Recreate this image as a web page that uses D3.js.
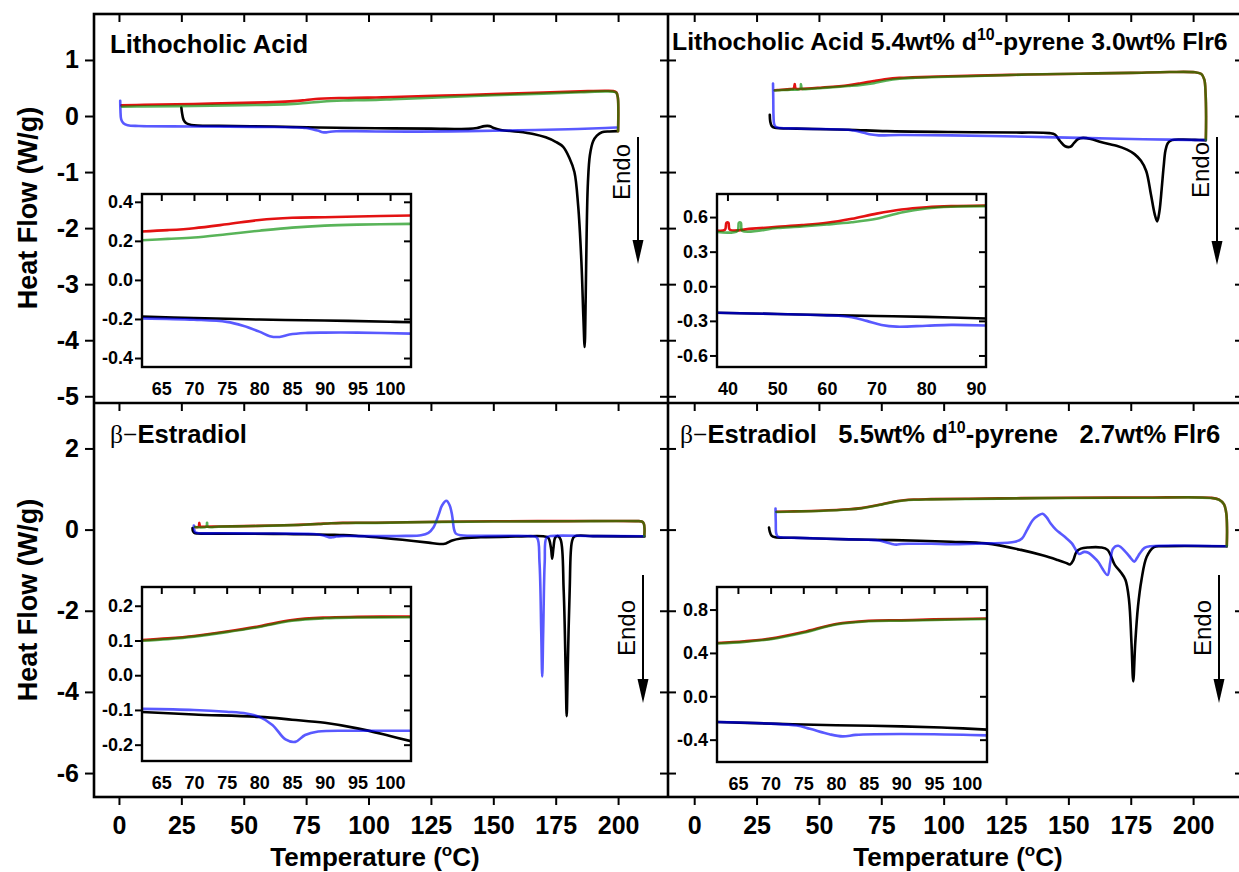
<!DOCTYPE html>
<html>
<head>
<meta charset="utf-8">
<script src="https://cdn.jsdelivr.net/npm/d3@7"></script>
<style>
  html, body { margin: 0; padding: 0; background: #fff; }
  svg { display: block; font-family: "Liberation Sans", Arial, Helvetica, sans-serif; }
</style>
</head>
<body>
<svg id="chart" width="1239" height="872"></svg>
<script>
// ---------- Axis ticks ----------
const tempTicks = [0, 25, 50, 75, 100, 125, 150, 175, 200];
const topFlowTicks = [1, 0, -1, -2, -3, -4, -5];
const bottomFlowTicks = [2, 0, -2, -4, -6];
const insetTempTicks = [65, 70, 75, 80, 85, 90, 95, 100];
const lcaDopInsetTempTicks = [40, 50, 60, 70, 80, 90];
const lcaInsetFlowTicks = [0.4, 0.2, 0, -0.2, -0.4];
const lcaDopInsetFlowTicks = [0.6, 0.3, 0, -0.3, -0.6];
const e2InsetFlowTicks = [0.2, 0.1, 0, -0.1, -0.2];
const e2DopInsetFlowTicks = [0.8, 0.4, 0, -0.4];

// ---------- Lithocholic acid: [temperature °C, heat flow W/g] ----------
const lcaHeat1 = [[25.0,0.15],[25.3,0.05],[25.9,-0.07],[27,-0.13],[29,-0.16],[40,-0.175],[62,-0.188],[80,-0.205],[103,-0.217],[125,-0.225],[140,-0.23],[143.5,-0.215],[146.5,-0.18],[148.5,-0.18],[150.5,-0.22],[153,-0.25],[160,-0.28],[166,-0.32],[171,-0.38],[175,-0.46],[178,-0.55],[180.5,-0.75],[182.5,-1.0],[184,-1.6],[185.3,-2.6],[186.1,-3.6],[186.6,-4.12],[187,-3.3],[187.4,-2.1],[187.9,-1.2],[188.7,-0.7],[190,-0.45],[191.5,-0.35],[193.5,-0.29],[196.5,-0.275],[199.6,-0.27]];
const lcaCool1 = [[200,-0.27],[200.1,0.1],[199.9,0.33],[199.3,0.42],[198,0.445],[195,0.45],[185,0.44],[170,0.42],[150,0.39],[130,0.365],[110,0.34],[103,0.33],[95,0.325],[90,0.321],[85,0.318],[80,0.307],[75,0.285],[70,0.265],[62,0.248],[50,0.235],[30,0.215],[10,0.2],[1,0.19]];
const lcaHeat2 = [[0.5,0.27],[0.6,0.1],[0.9,-0.06],[1.8,-0.13],[3.5,-0.165],[8,-0.178],[30,-0.186],[62,-0.197],[70,-0.204],[75,-0.215],[77.5,-0.235],[80,-0.265],[81.6,-0.288],[83.1,-0.292],[84.6,-0.28],[87,-0.272],[90,-0.27],[95,-0.27],[103,-0.275],[120,-0.278],[140,-0.27],[160,-0.255],[180,-0.235],[195,-0.215],[199.3,-0.205]];
const lcaCool2 = [[200,-0.27],[200.1,0.1],[199.9,0.33],[199.3,0.415],[198,0.435],[195,0.44],[185,0.425],[170,0.4],[150,0.37],[130,0.335],[110,0.3],[103,0.287],[95,0.283],[90,0.278],[85,0.268],[80,0.252],[75,0.234],[70,0.217],[62,0.203],[50,0.195],[30,0.18],[10,0.17],[1.2,0.165]];

const lcaInsetHeat1 = [[62,-0.188],[70,-0.195],[80,-0.203],[90,-0.208],[100,-0.214],[103.2,-0.217]];
const lcaInsetCool1 = [[62,0.248],[66,0.255],[70,0.265],[75,0.285],[80,0.307],[85,0.318],[90,0.321],[95,0.325],[103.2,0.33]];
const lcaInsetHeat2 = [[62,-0.197],[70,-0.204],[75,-0.215],[77.5,-0.235],[80,-0.265],[81.6,-0.288],[83.1,-0.292],[84.6,-0.28],[87,-0.272],[90,-0.27],[95,-0.27],[103.2,-0.275]];
const lcaInsetCool2 = [[62,0.203],[66,0.21],[70,0.217],[75,0.234],[80,0.252],[85,0.268],[90,0.278],[95,0.283],[103.2,0.287]];

// ---------- Lithocholic acid + 5.4wt% d10-pyrene + 3.0wt% Flr6 ----------
const lcaDopHeat1 = [[30.3,0.02],[30.5,-0.1],[31.1,-0.18],[32.3,-0.21],[41.1,-0.225],[61.7,-0.245],[77.2,-0.27],[102.9,-0.285],[128.6,-0.295],[142.5,-0.305],[144.6,-0.33],[146.7,-0.45],[148.7,-0.54],[150.8,-0.55],[152.3,-0.48],[153.9,-0.41],[155.9,-0.39],[159.0,-0.41],[162.6,-0.46],[166.2,-0.5],[169.3,-0.53],[173.5,-0.6],[176.5,-0.68],[179.1,-0.8],[181.2,-0.98],[183.1,-1.4],[184.6,-1.75],[185.6,-1.88],[186.5,-1.7],[187.4,-1.3],[188.2,-0.9],[188.9,-0.62],[189.9,-0.48],[191.5,-0.43],[195.6,-0.42],[200.8,-0.425],[204.9,-0.43]];
const lcaDopCool1 = [[205.1,-0.43],[205.2,0.0],[205.0,0.4],[204.5,0.65],[203.3,0.75],[200.8,0.78],[190.5,0.785],[175,0.77],[154.4,0.755],[133.8,0.74],[113.2,0.72],[97.8,0.705],[87.5,0.69],[82.3,0.68],[77.2,0.66],[72,0.625],[66.9,0.585],[61.7,0.55],[51.4,0.51],[43,0.485],[40.7,0.49],[40.3,0.57],[39.9,0.49],[38.5,0.48],[33.9,0.465],[32.3,0.46]];
const lcaDopHeat2 = [[31.6,0.58],[31.7,0.3],[31.8,0.0],[32.1,-0.15],[32.9,-0.2],[41.1,-0.222],[61.7,-0.245],[64,-0.26],[68,-0.3],[71,-0.33],[74,-0.345],[82.3,-0.338],[102.9,-0.345],[133.8,-0.37],[154.4,-0.39],[180.1,-0.415],[205.1,-0.43]];
const lcaDopCool2 = [[205.1,-0.43],[205.2,0.0],[205.0,0.4],[204.5,0.65],[203.3,0.75],[200.8,0.78],[190.5,0.785],[175,0.77],[154.4,0.755],[133.8,0.74],[113.2,0.715],[97.8,0.695],[87.5,0.68],[82.3,0.665],[77.2,0.635],[72,0.585],[66.9,0.555],[61.7,0.535],[51.4,0.5],[43.4,0.48],[43.1,0.485],[42.8,0.57],[42.5,0.485],[38.5,0.47],[33.9,0.46],[32.3,0.455]];

const lcaDopInsetHeat1 = [[37.9,-0.23],[50,-0.24],[60,-0.25],[70,-0.258],[80,-0.265],[92,-0.28]];
const lcaDopInsetCool1 = [[37.9,0.483],[39.5,0.49],[39.8,0.55],[40.2,0.55],[40.5,0.49],[45,0.5],[50,0.515],[55,0.53],[60,0.55],[65,0.585],[70,0.63],[75,0.665],[80,0.685],[85,0.695],[92,0.70]];
const lcaDopInsetHeat2 = [[37.9,-0.23],[50,-0.24],[60,-0.252],[65,-0.268],[68,-0.3],[71,-0.335],[74,-0.35],[80,-0.342],[85,-0.335],[92,-0.34]];
const lcaDopInsetCool2 = [[37.9,0.47],[42,0.48],[42.3,0.55],[42.7,0.55],[43,0.48],[50,0.505],[55,0.518],[60,0.535],[65,0.555],[70,0.585],[75,0.64],[80,0.675],[85,0.69],[92,0.695]];

// ---------- β-Estradiol ----------
const e2Heat1 = [[29.5,0.04],[29.6,-0.03],[30.2,-0.08],[31.5,-0.095],[40,-0.1],[62,-0.106],[70,-0.113],[80,-0.12],[85,-0.128],[90,-0.137],[95,-0.153],[100,-0.175],[103,-0.19],[110,-0.23],[118,-0.28],[124,-0.32],[128.5,-0.355],[131,-0.34],[133.5,-0.27],[137,-0.22],[145,-0.19],[160,-0.17],[170,-0.165],[172,-0.2],[173.1,-0.45],[173.6,-0.72],[174.1,-0.45],[174.8,-0.2],[175.8,-0.16],[177,-0.25],[178.2,-1.5],[179,-3.5],[179.4,-4.6],[179.8,-3.5],[180.6,-1.5],[181.5,-0.3],[182.5,-0.17],[190,-0.16],[210.5,-0.17]];
const e2Cool1 = [[210.5,-0.17],[210.6,0.0],[210.3,0.15],[209.5,0.2],[207,0.21],[180,0.21],[150,0.205],[130,0.195],[115,0.18],[103,0.168],[95,0.167],[90,0.165],[85,0.158],[80,0.14],[75,0.125],[70,0.112],[62,0.1],[50,0.085],[40,0.075],[33,0.07],[32.5,0.07],[32.2,0.17],[31.9,0.07],[30.5,0.065]];
const e2Heat2 = [[30,0.1],[30.1,0.02],[30.5,-0.06],[31.5,-0.085],[40,-0.09],[62,-0.097],[70,-0.1],[75,-0.105],[78,-0.11],[80,-0.12],[82,-0.143],[84,-0.185],[85.5,-0.19],[87,-0.17],[89,-0.16],[95,-0.16],[103,-0.16],[115,-0.155],[121,-0.14],[124,-0.08],[126,0.05],[128,0.35],[129.5,0.6],[131.2,0.71],[132.5,0.6],[133.5,0.35],[134.3,0.0],[135,-0.1],[137,-0.14],[150,-0.155],[165,-0.16],[167.5,-0.2],[168.5,-0.8],[169.2,-2.5],[169.6,-3.62],[170.0,-2.5],[170.6,-0.8],[171.3,-0.2],[173,-0.16],[190,-0.16],[210.5,-0.165]];
const e2Cool2 = [[210.5,-0.17],[210.6,0.0],[210.3,0.15],[209.5,0.2],[207,0.21],[180,0.205],[150,0.2],[130,0.19],[115,0.177],[103,0.166],[95,0.165],[90,0.163],[85,0.156],[80,0.138],[75,0.123],[70,0.11],[62,0.098],[50,0.083],[40,0.073],[35.6,0.07],[35.3,0.17],[35.0,0.07],[30.5,0.063]];

const e2InsetHeat1 = [[62,-0.106],[70,-0.113],[80,-0.12],[85,-0.128],[90,-0.137],[95,-0.153],[100,-0.175],[103.2,-0.19]];
const e2InsetCool1 = [[62,0.101],[66,0.106],[70,0.113],[75,0.126],[80,0.141],[85,0.159],[90,0.166],[95,0.168],[103.2,0.169]];
const e2InsetHeat2 = [[62,-0.097],[70,-0.1],[75,-0.105],[78,-0.11],[80,-0.12],[82,-0.143],[84,-0.185],[85.5,-0.192],[87,-0.172],[89,-0.162],[95,-0.16],[103.2,-0.16]];
const e2InsetCool2 = [[62,0.099],[66,0.104],[70,0.111],[75,0.124],[80,0.139],[85,0.157],[90,0.164],[95,0.166],[103.2,0.167]];

// ---------- β-Estradiol + 5.5wt% d10-pyrene + 2.7wt% Flr6 ----------
const e2DopHeat1 = [[30,0.05],[30.3,-0.05],[31,-0.15],[32.5,-0.19],[40,-0.2],[62,-0.24],[80,-0.26],[103,-0.3],[117,-0.34],[131,-0.5],[140,-0.64],[145.7,-0.75],[149,-0.82],[150.7,-0.86],[152,-0.75],[153.2,-0.55],[155,-0.47],[158,-0.44],[163,-0.44],[165.7,-0.5],[168.6,-0.87],[171,-1.05],[172.9,-1.24],[174.3,-1.73],[175.3,-2.8],[176,-3.74],[176.8,-2.8],[177.9,-1.9],[179.3,-1.24],[181.4,-0.67],[184.3,-0.43],[188,-0.41],[213.5,-0.41]];
const e2DopCool1 = [[213.5,-0.41],[213.6,0.0],[213.3,0.4],[212.4,0.62],[210.4,0.74],[207,0.785],[180,0.79],[150,0.785],[131,0.775],[110,0.76],[95,0.75],[88,0.74],[81,0.7],[75,0.62],[67,0.53],[62,0.5],[50,0.465],[40,0.45],[33,0.44]];
const e2DopHeat2 = [[32.6,0.52],[32.7,0.2],[32.9,-0.1],[33.5,-0.17],[35,-0.19],[45,-0.21],[62,-0.24],[70,-0.252],[74,-0.27],[76,-0.3],[79,-0.35],[81,-0.37],[83,-0.356],[86,-0.35],[95,-0.35],[103,-0.36],[117,-0.34],[128.6,-0.3],[131.4,-0.22],[133.5,0.0],[135.7,0.23],[138,0.35],[139.7,0.39],[141.3,0.3],[142.9,0.15],[145,0.0],[147,-0.1],[149,-0.2],[151.4,-0.34],[153,-0.5],[154.3,-0.6],[156.4,-0.55],[158,-0.57],[160,-0.67],[162,-0.8],[163.6,-0.96],[165.7,-1.12],[166.8,-0.8],[167.9,-0.47],[170,-0.4],[172.9,-0.55],[175,-0.7],[176.4,-0.79],[177.5,-0.7],[178.6,-0.59],[180.5,-0.45],[182.9,-0.41],[213.5,-0.41]];
const e2DopCool2 = [[213.5,-0.41],[213.6,0.0],[213.3,0.4],[212.4,0.62],[210.4,0.735],[207,0.78],[180,0.785],[150,0.78],[131,0.77],[110,0.755],[95,0.745],[88,0.735],[81,0.695],[75,0.615],[67,0.525],[62,0.495],[50,0.46],[40,0.445],[33,0.435]];

const e2DopInsetHeat1 = [[61.8,-0.237],[70,-0.252],[75,-0.26],[80,-0.267],[90,-0.277],[97,-0.29],[103.1,-0.307]];
const e2DopInsetCool1 = [[61.8,0.492],[66,0.507],[70,0.532],[75,0.592],[80,0.667],[85,0.697],[90,0.702],[95,0.709],[103.1,0.718]];
const e2DopInsetHeat2 = [[61.8,-0.237],[70,-0.252],[74,-0.27],[76,-0.3],[79,-0.35],[81,-0.37],[83,-0.356],[86,-0.35],[95,-0.35],[103.1,-0.36]];
const e2DopInsetCool2 = [[61.8,0.487],[66,0.502],[70,0.527],[75,0.587],[80,0.662],[85,0.692],[90,0.697],[95,0.704],[103.1,0.713]];

// ---------- Drawing ----------
const FONT = "'Liberation Sans', Arial, Helvetica, sans-serif";
const SERIF = "'Liberation Serif', 'Times New Roman', serif";
const svg = d3.select("#chart");
const defs = svg.append("defs");

// first heating (black) and first cooling (red) opaque; second runs translucent on top
const traceStyle = [
  { key: "heat1", color: "#000000", opacity: 1 },
  { key: "cool1", color: "#e31212", opacity: 1 },
  { key: "heat2", color: "#0000ff", opacity: 0.65 },
  { key: "cool2", color: "#008c00", opacity: 0.65 }
];

function styleAxis(g, fontSize) {
  g.select(".domain").remove();
  g.selectAll(".tick line").attr("stroke", "#000").attr("stroke-width", 2);
  g.selectAll(".tick text")
    .attr("fill", "#000")
    .attr("font-size", fontSize)
    .attr("font-weight", "bold")
    .attr("font-family", FONT);
}

function drawTraces(parent, x, y, traces, clipId, width) {
  const line = d3.line()
    .x(d => x(d[0]))
    .y(d => y(d[1]))
    .curve(d3.curveCatmullRom.alpha(0.5));
  const layer = parent.append("g")
    .attr("clip-path", `url(#${clipId})`)
    .attr("fill", "none")
    .attr("stroke-width", width)
    .attr("stroke-linejoin", "round")
    .attr("stroke-linecap", "round");
  traceStyle.forEach(s => {
    layer.append("path")
      .datum(traces[s.key])
      .attr("d", line)
      .attr("stroke", s.color)
      .attr("stroke-opacity", s.opacity);
  });
}

function addClip(id, x0, y0, x1, y1) {
  defs.append("clipPath").attr("id", id)
    .append("rect").attr("x", x0).attr("y", y0).attr("width", x1 - x0).attr("height", y1 - y0);
}

function drawInset(p) {
  const x = d3.scaleLinear().domain(p.xDomain).range([p.left, p.right]);
  const y = d3.scaleLinear().domain(p.yDomain).range([p.bottom, p.top]);
  const g = svg.append("g");
  g.append("rect")
    .attr("x", p.left).attr("y", p.top)
    .attr("width", p.right - p.left).attr("height", p.bottom - p.top)
    .attr("fill", "#fff");
  addClip(p.id, p.left, p.top, p.right, p.bottom);
  drawTraces(g, x, y, p.traces, p.id, 2.6);

  g.append("g").attr("transform", `translate(${p.left},0)`)
    .call(d3.axisLeft(y).tickValues(p.yTicks).tickSize(7).tickPadding(2).tickFormat(d => d.toFixed(1)))
    .call(a => styleAxis(a, 18));
  g.append("g").attr("transform", `translate(${p.right},0)`)
    .call(d3.axisRight(y).tickValues(p.yTicks).tickSize(-7).tickFormat(""))
    .call(a => styleAxis(a, 18));
  g.append("g").attr("transform", `translate(0,${p.top})`)
    .call(d3.axisTop(x).tickValues(p.xTicks).tickSize(-7).tickFormat(""))
    .call(a => styleAxis(a, 18));
  g.append("g").attr("transform", `translate(0,${p.bottom})`)
    .call(d3.axisBottom(x).tickValues(p.xTicks).tickSize(0).tickPadding(15).tickFormat(d => String(d)))
    .call(a => styleAxis(a, 18));

  g.append("rect")
    .attr("x", p.left).attr("y", p.top)
    .attr("width", p.right - p.left).attr("height", p.bottom - p.top)
    .attr("fill", "none").attr("stroke", "#000").attr("stroke-width", 2.4);
}

function drawEndo(ax, top, tip, textY) {
  const g = svg.append("g");
  g.append("line")
    .attr("x1", ax).attr("x2", ax).attr("y1", top).attr("y2", tip - 14)
    .attr("stroke", "#000").attr("stroke-width", 2);
  g.append("path")
    .attr("d", `M${ax - 5.5},${tip - 24} L${ax + 5.5},${tip - 24} L${ax},${tip} Z`)
    .attr("fill", "#000");
  g.append("text")
    .attr("transform", `translate(${ax - 8},${textY}) rotate(-90)`)
    .attr("text-anchor", "middle")
    .attr("font-family", FONT)
    .attr("font-size", 24)
    .attr("fill", "#000")
    .text("Endo");
}

function drawPanel(p) {
  const x = d3.scaleLinear().domain(p.xDomain).range([p.left, p.right]);
  const y = d3.scaleLinear().domain(p.yDomain).range([p.bottom, p.top]);
  const g = svg.append("g");
  addClip(p.id, p.left, p.top, p.right, p.bottom);
  drawTraces(g, x, y, p.traces, p.id, 2.6);

  // left axis: labelled on the left column, mirrored inward on the right column
  g.append("g").attr("transform", `translate(${p.left},0)`)
    .call(p.yLabels
      ? d3.axisLeft(y).tickValues(p.yTicks).tickSize(9).tickPadding(6).tickFormat(d => String(d))
      : d3.axisLeft(y).tickValues(p.yTicks).tickSize(-8).tickFormat(""))
    .call(a => styleAxis(a, 25));
  g.append("g").attr("transform", `translate(${p.right},0)`)
    .call(d3.axisRight(y).tickValues(p.yTicks).tickSize(-8).tickFormat(""))
    .call(a => styleAxis(a, 25));
  g.append("g").attr("transform", `translate(0,${p.top})`)
    .call(d3.axisTop(x).tickValues(tempTicks).tickSize(-8).tickFormat(""))
    .call(a => styleAxis(a, 25));
  if (p.xLabels) {
    g.append("g").attr("transform", `translate(0,${p.bottom})`)
      .call(d3.axisBottom(x).tickValues(tempTicks).tickSize(8).tickPadding(11).tickFormat(d => String(d)))
      .call(a => styleAxis(a, 25));
  }
  drawInset(p.inset);
  drawEndo(p.endo.x, p.endo.top, p.endo.tip, p.endo.textY);
}

// layout of the 2x2 grid
const gridLeft = 94, gridMid = 668, gridRight = 1243;
const gridTop = 14, gridRow = 403, gridBottom = 797;
const leftTemp = [-10, 220], rightTemp = [-10.5, 220];
const topFlow = [-5.12, 1.82], bottomFlow = [-6.59, 3.12];

drawPanel({
  id: "lca", left: gridLeft, right: gridMid, top: gridTop, bottom: gridRow,
  xDomain: leftTemp, yDomain: topFlow, yTicks: topFlowTicks, yLabels: true, xLabels: false,
  traces: { heat1: lcaHeat1, cool1: lcaCool1, heat2: lcaHeat2, cool2: lcaCool2 },
  endo: { x: 638, top: 137, tip: 264, textY: 172 },
  inset: {
    id: "lca-inset", left: 142, right: 411, top: 194, bottom: 367,
    xDomain: [62.05, 103.2], yDomain: [-0.446, 0.44], xTicks: insetTempTicks, yTicks: lcaInsetFlowTicks,
    traces: { heat1: lcaInsetHeat1, cool1: lcaInsetCool1, heat2: lcaInsetHeat2, cool2: lcaInsetCool2 }
  }
});

drawPanel({
  id: "lcadop", left: gridMid, right: gridRight, top: gridTop, bottom: gridRow,
  xDomain: rightTemp, yDomain: topFlow, yTicks: topFlowTicks, yLabels: false, xLabels: false,
  traces: { heat1: lcaDopHeat1, cool1: lcaDopCool1, heat2: lcaDopHeat2, cool2: lcaDopCool2 },
  endo: { x: 1217, top: 137, tip: 265, textY: 170 },
  inset: {
    id: "lcadop-inset", left: 717, right: 986, top: 194, bottom: 367,
    xDomain: [37.9, 92], yDomain: [-0.70, 0.80], xTicks: lcaDopInsetTempTicks, yTicks: lcaDopInsetFlowTicks,
    traces: { heat1: lcaDopInsetHeat1, cool1: lcaDopInsetCool1, heat2: lcaDopInsetHeat2, cool2: lcaDopInsetCool2 }
  }
});

drawPanel({
  id: "e2", left: gridLeft, right: gridMid, top: gridRow, bottom: gridBottom,
  xDomain: leftTemp, yDomain: bottomFlow, yTicks: bottomFlowTicks, yLabels: true, xLabels: true,
  traces: { heat1: e2Heat1, cool1: e2Cool1, heat2: e2Heat2, cool2: e2Cool2 },
  endo: { x: 643, top: 575, tip: 703, textY: 628 },
  inset: {
    id: "e2-inset", left: 142, right: 411, top: 587, bottom: 761,
    xDomain: [62.05, 103.2], yDomain: [-0.247, 0.254], xTicks: insetTempTicks, yTicks: e2InsetFlowTicks,
    traces: { heat1: e2InsetHeat1, cool1: e2InsetCool1, heat2: e2InsetHeat2, cool2: e2InsetCool2 }
  }
});

drawPanel({
  id: "e2dop", left: gridMid, right: gridRight, top: gridRow, bottom: gridBottom,
  xDomain: rightTemp, yDomain: bottomFlow, yTicks: bottomFlowTicks, yLabels: false, xLabels: true,
  traces: { heat1: e2DopHeat1, cool1: e2DopCool1, heat2: e2DopHeat2, cool2: e2DopCool2 },
  endo: { x: 1219, top: 575, tip: 703, textY: 628 },
  inset: {
    id: "e2dop-inset", left: 717, right: 987, top: 587, bottom: 762,
    xDomain: [61.8, 103.1], yDomain: [-0.606, 1.008], xTicks: insetTempTicks, yTicks: e2DopInsetFlowTicks,
    traces: { heat1: e2DopInsetHeat1, cool1: e2DopInsetCool1, heat2: e2DopInsetHeat2, cool2: e2DopInsetCool2 }
  }
});

// grid frame
const frame = svg.append("g").attr("fill", "none").attr("stroke", "#000").attr("stroke-width", 2.6);
frame.append("rect").attr("x", gridLeft).attr("y", gridTop)
  .attr("width", gridRight - gridLeft).attr("height", gridBottom - gridTop);
frame.append("line").attr("x1", gridMid).attr("x2", gridMid).attr("y1", gridTop).attr("y2", gridBottom);
frame.append("line").attr("x1", gridLeft).attr("x2", gridRight).attr("y1", gridRow).attr("y2", gridRow);

// panel titles
function title(xPos, yPos, size, parts) {
  const t = svg.append("text")
    .attr("x", xPos).attr("y", yPos)
    .attr("font-family", FONT).attr("font-size", size).attr("font-weight", "bold")
    .attr("fill", "#000").style("white-space", "pre");
  parts.forEach(pt => {
    const s = t.append("tspan").text(pt.text);
    if (pt.serif) s.attr("font-family", SERIF).attr("font-weight", "normal");
    if (pt.sup) s.attr("font-size", 16).attr("dy", -10);
    if (pt.after) s.attr("dy", 10);
  });
}
title(110, 53, 25.6, [{ text: "Lithocholic Acid" }]);
title(672, 50, 24.8, [
  { text: "Lithocholic Acid 5.4wt% d" }, { text: "10", sup: true },
  { text: "-pyrene 3.0wt% Flr6", after: true }
]);
title(110, 443, 25.6, [{ text: "β−", serif: true }, { text: "Estradiol" }]);
title(680, 443, 25.6, [
  { text: "β−", serif: true }, { text: "Estradiol   5.5wt% d" }, { text: "10", sup: true },
  { text: "-pyrene   2.7wt% Flr6", after: true }
]);

// axis titles
[208, 600].forEach(cy => {
  svg.append("text")
    .attr("transform", `translate(37,${cy}) rotate(-90)`)
    .attr("text-anchor", "middle")
    .attr("font-family", FONT).attr("font-size", 27).attr("font-weight", "bold")
    .attr("fill", "#000")
    .text("Heat Flow (W/g)");
});
[375, 958].forEach(cx => {
  const t = svg.append("text")
    .attr("x", cx).attr("y", 866)
    .attr("text-anchor", "middle")
    .attr("font-family", FONT).attr("font-size", 26).attr("font-weight", "bold")
    .attr("fill", "#000");
  t.append("tspan").text("Temperature (");
  t.append("tspan").attr("font-size", 17).attr("dy", -10).text("o");
  t.append("tspan").attr("dy", 10).text("C)");
});
</script>
</body>
</html>
